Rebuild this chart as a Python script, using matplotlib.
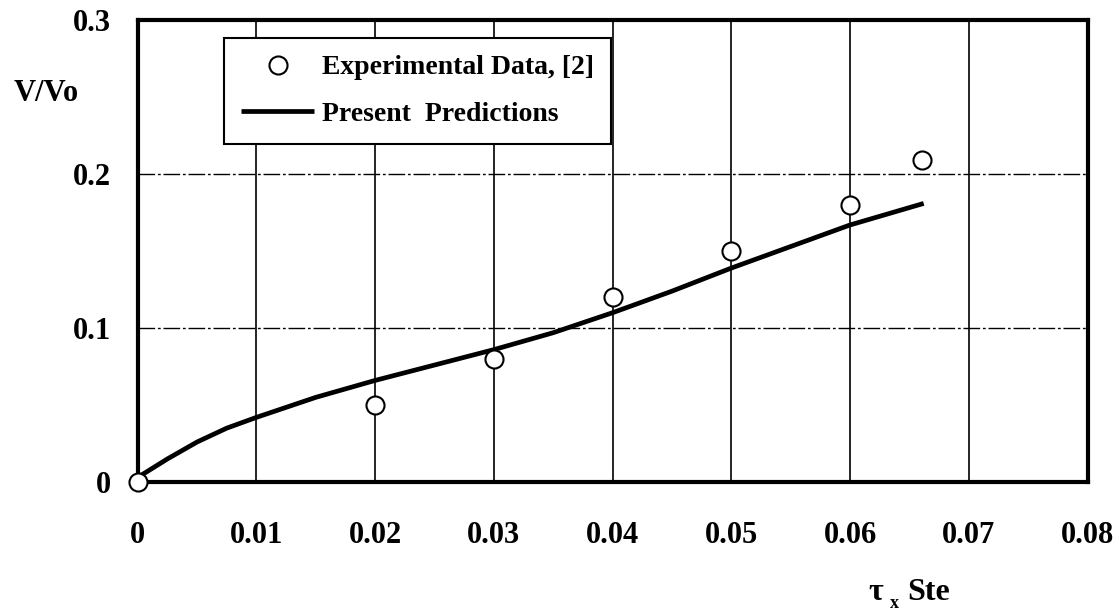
import numpy as np
import matplotlib
matplotlib.use("Agg")
import matplotlib.pyplot as plt

plt.rcParams['font.family'] = ['Liberation Serif', 'DejaVu Serif']
plt.rcParams['font.weight'] = 'bold'

# measured points
exp_x = [0.0, 0.02, 0.03, 0.04, 0.05, 0.06, 0.0661]
exp_y = [0.0, 0.05, 0.08, 0.12, 0.15, 0.18, 0.209]

# model curve
pred_x = [0.0, 0.0025, 0.005, 0.0075, 0.01, 0.015, 0.02, 0.025, 0.03, 0.035,
          0.04, 0.045, 0.05, 0.055, 0.06, 0.0662]
pred_y = [0.003, 0.015, 0.026, 0.035, 0.042, 0.055, 0.066, 0.076, 0.086, 0.097,
          0.110, 0.124, 0.139, 0.153, 0.167, 0.181]

xticks = [0, 0.01, 0.02, 0.03, 0.04, 0.05, 0.06, 0.07, 0.08]
xticklabels = ['0', '0.01', '0.02', '0.03', '0.04', '0.05', '0.06', '0.07', '0.08']
yticks = [0, 0.1, 0.2, 0.3]
yticklabels = ['0', '0.1', '0.2', '0.3']

fig = plt.figure(figsize=(11.2, 6.14), dpi=100)
ax = fig.add_axes([0.123, 0.215, 0.848, 0.752])

for xv in xticks[1:-1]:
    ax.axvline(xv, color='black', lw=1.2, zorder=1)
for yv in yticks[1:-1]:
    ax.axhline(yv, color='black', lw=1.0, ls=(0, (12, 2, 2, 2)), zorder=1)

ax.plot(pred_x, pred_y, color='black', lw=3.4, solid_capstyle='butt',
        solid_joinstyle='round', label='Present  Predictions', zorder=3)
ax.plot(exp_x, exp_y, 'o', mfc='white', mec='black', ms=13, mew=1.5,
        label='Experimental Data, [2]', zorder=4, clip_on=False)

ax.set_xlim(0, 0.08)
ax.set_ylim(0, 0.3)
ax.set_xticks(xticks)
ax.set_xticklabels(xticklabels)
ax.set_yticks(yticks)
ax.set_yticklabels(yticklabels)
ax.tick_params(length=0, labelsize=22)
ax.tick_params(axis='x', pad=28)
ax.tick_params(axis='y', pad=19)
for s in ax.spines.values():
    s.set_linewidth(3)

handles, labels = ax.get_legend_handles_labels()
leg = ax.legend(handles[::-1], labels[::-1], loc='upper left',
                bbox_to_anchor=(0.091, 0.962), borderaxespad=0,
                fancybox=False, framealpha=1, edgecolor='black',
                prop={'size': 20, 'weight': 'bold'},
                handlelength=2.6, handletextpad=0.3, borderpad=0.62,
                labelspacing=0.76)
leg.get_frame().set_linewidth(1.5)

fig.text(0.041, 0.847, 'V/Vo', fontsize=22, fontweight='bold',
         ha='center', va='center')
fig.text(0.775, 0.022, 'τ', fontsize=23, fontweight='bold', ha='left', va='baseline')
fig.text(0.795, 0.010, 'x', fontsize=13, fontweight='bold', ha='left', va='baseline')
fig.text(0.810, 0.022, 'Ste', fontsize=23, fontweight='bold', ha='left', va='baseline')

fig.savefig('out.png', dpi=100)
